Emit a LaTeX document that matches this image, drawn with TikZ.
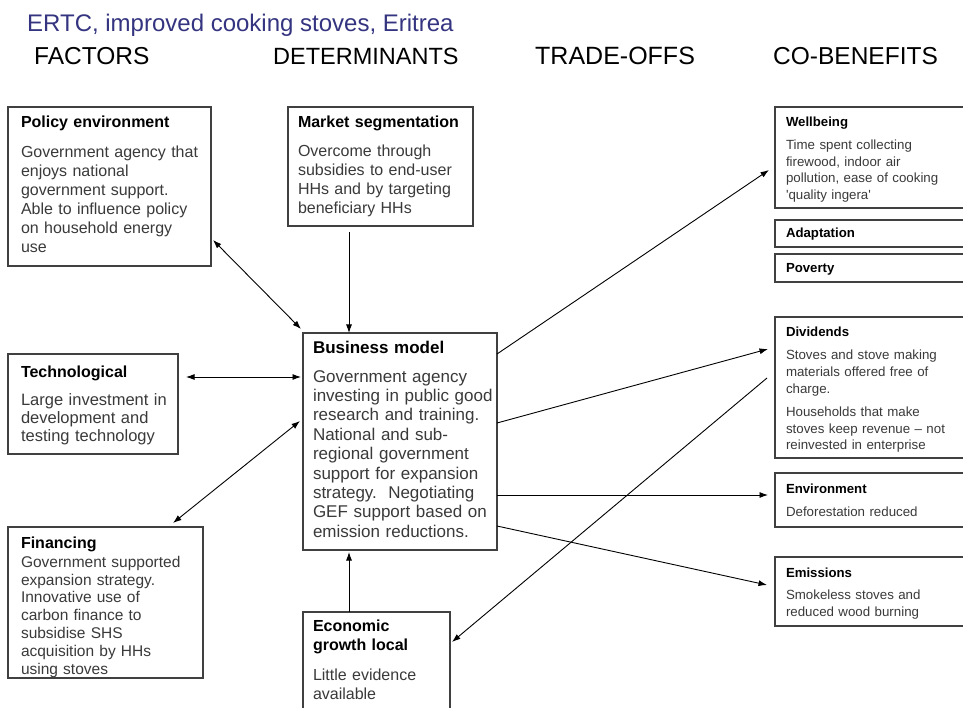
\documentclass[tikz,border=0pt]{standalone}
\usepackage{fontspec}
\setmainfont{Liberation Sans}
\usetikzlibrary{arrows.meta,calc}
\definecolor{titleblue}{RGB}{52,52,128}
\definecolor{boxline}{RGB}{64,64,64}
\definecolor{bodytext}{RGB}{58,58,58}

\begin{document}
\begin{tikzpicture}[x=1pt,y=-1pt,
  box/.style={draw=boxline, line width=1.1pt, anchor=north west, inner sep=0pt, outer sep=0pt},
  boxtext/.style={anchor=base west, inner sep=0pt, outer sep=0pt, text width=#1, align=left, text=bodytext},
  tip/.tip={Latex[length=8.5pt,width=6pt]},
  link/.style={draw=black, line width=0.9pt, -tip},
  both/.style={draw=black, line width=0.9pt, tip-tip},
  heading/.style={anchor=base west, inner sep=0pt, font=\fontsize{#1}{28}\selectfont},
  heading/.default=24]

\useasboundingbox (0,0) rectangle (963,708);
\clip (0,0) rectangle (963,708);
\fill[white] (0,0) rectangle (963,708);

% title and column headings
\node[heading, text=titleblue] (title) at (27,32) {ERTC, improved cooking stoves, Eritrea};
\node[heading=24.5] (hfac) at (34,65) {FACTORS};
\node[heading=23.5] (hdet) at (273,65) {DETERMINANTS};
\node[heading=25] (htra) at (535,65) {TRADE-OFFS};
\node[heading=24.5] (hcob) at (773,65) {CO-BENEFITS};

% frames
\node[box, minimum width=203, minimum height=159] (pol) at (8,107) {};
\node[box, minimum width=185, minimum height=119] (mkt) at (288,107) {};
\node[box, minimum width=170, minimum height=100] (tech) at (8,354) {};
\node[box, minimum width=195, minimum height=151] (fin) at (8,527) {};
\node[box, minimum width=194, minimum height=217] (bm) at (303,333) {};
\node[box, minimum width=147, minimum height=110] (econ) at (303,612) {};
\node[box, minimum width=200, minimum height=101] (well) at (775,107) {};
\node[box, minimum width=200, minimum height=27] (adap) at (775,220) {};
\node[box, minimum width=200, minimum height=28] (pov) at (775,254) {};
\node[box, minimum width=200, minimum height=141] (div) at (775,317) {};
\node[box, minimum width=200, minimum height=54] (env) at (775,473) {};
\node[box, minimum width=200, minimum height=69] (emi) at (775,557) {};

% left column texts
\node[boxtext=190pt, font=\fontsize{16}{19}\selectfont] (pol-t) at (21,128)
  {{\color{black}\bfseries Policy environment}\\[11pt]
   Government agency that\\ enjoys national\\ government support.\\
   Able to influence policy\\ on household energy\\ use};
\node[boxtext=175pt, font=\fontsize{16}{19}\selectfont] (mkt-t) at (298,128)
  {{\color{black}\bfseries Market segmentation}\\[10pt]
   Overcome through\\ subsidies to end-user\\ HHs and by targeting\\ beneficiary HHs};
\node[boxtext=160pt, font=\fontsize{16.5}{18}\selectfont] (tech-t) at (21,377)
  {{\color{black}\bfseries\fontsize{16}{18}\selectfont Technological}\\[10pt]
   Large investment in\\ development and\\ testing technology};
\node[boxtext=185pt, font=\fontsize{15.5}{17.8}\selectfont] (fin-t) at (21,548)
  {{\color{black}\bfseries\fontsize{16}{17.8}\selectfont Financing}\\[1.5pt]
   Government supported\\ expansion strategy.\\ Innovative use of\\ carbon finance to\\
   subsidise SHS\\ acquisition by HHs\\ using stoves};
\node[boxtext=185pt, font=\fontsize{17}{19.4}\selectfont] (bm-t) at (313,353)
  {{\color{black}\bfseries Business model}\\[9.6pt]
   Government agency\\ investing in public good\\ research and training.\\
   National and sub-\\ regional government\\ support for expansion\\
   strategy.\ \ Negotiating\\ GEF support based on\\ emission reductions.};
\node[boxtext=135pt, font=\fontsize{16}{19}\selectfont] (econ-t) at (313,631)
  {{\color{black}\bfseries Economic\\ growth local}\\[11pt]
   Little evidence\\ available};

% co-benefit texts
\node[boxtext=180pt, font=\fontsize{13.3}{16.8}\selectfont] (well-t) at (786,127)
  {{\color{black}\bfseries\fontsize{13.2}{16.8}\selectfont Wellbeing}\\[5.5pt]
   Time spent collecting\\ firewood, indoor air\\ pollution, ease of cooking\\
   \textquotesingle quality ingera\textquotesingle};
\node[boxtext=180pt, font=\bfseries\fontsize{13.2}{16.8}\selectfont, text=black] (adap-t) at (786,238) {Adaptation};
\node[boxtext=180pt, font=\bfseries\fontsize{13.2}{16.8}\selectfont, text=black] (pov-t) at (786,273) {Poverty};
\node[boxtext=180pt, font=\fontsize{13.3}{16.8}\selectfont] (div-t) at (786,336)
  {{\color{black}\bfseries\fontsize{13.2}{16.8}\selectfont Dividends}\\[7pt]
   Stoves and stove making\\ materials offered free of\\ charge.\\[6pt]
   Households that make\\ stoves keep revenue -- not\\ reinvested in enterprise};
\node[boxtext=180pt, font=\fontsize{13.3}{16.8}\selectfont] (env-t) at (786,493)
  {{\color{black}\bfseries\fontsize{13.2}{16.8}\selectfont Environment}\\[7pt]
   Deforestation reduced};
\node[boxtext=180pt, font=\fontsize{13.3}{16.8}\selectfont] (emi-t) at (786,577)
  {{\color{black}\bfseries\fontsize{13.2}{16.8}\selectfont Emissions}\\[6pt]
   Smokeless stoves and\\ reduced wood burning};

% links between factors and the business model
\draw[both] ($(pol.north east)+(2,133)$) -- ($(bm.north west)+(-2,-4)$);
\draw[link] ($(mkt.south west)+(61,6)$) -- ($(bm.north west)+(46,0)$);
\draw[both] ($(tech.north east)+(8,23)$) -- ($(bm.north west)+(-2,44)$);
\draw[both] ($(fin.north east)+(-30,-4)$) -- ($(bm.north west)+(-3,88)$);
\draw[link] ($(econ.north west)+(46,0)$) -- ($(bm.south west)+(46,2)$);

% links towards the co-benefits
\draw[link] ($(bm.north east)+(0,21)$) -- ($(well.north west)+(-6,63)$);
\draw[link] ($(bm.north east)+(0,90)$) -- ($(div.north west)+(-7,32)$);
\draw[link] ($(div.north west)+(-8,61)$) -- ($(econ.north east)+(2,30)$);
\draw[link] ($(bm.north east)+(0,162)$) -- ($(env.north west)+(-7,22)$);
\draw[link] ($(bm.north east)+(0,193)$) -- ($(emi.north west)+(-8,28)$);
\end{tikzpicture}
\end{document}
